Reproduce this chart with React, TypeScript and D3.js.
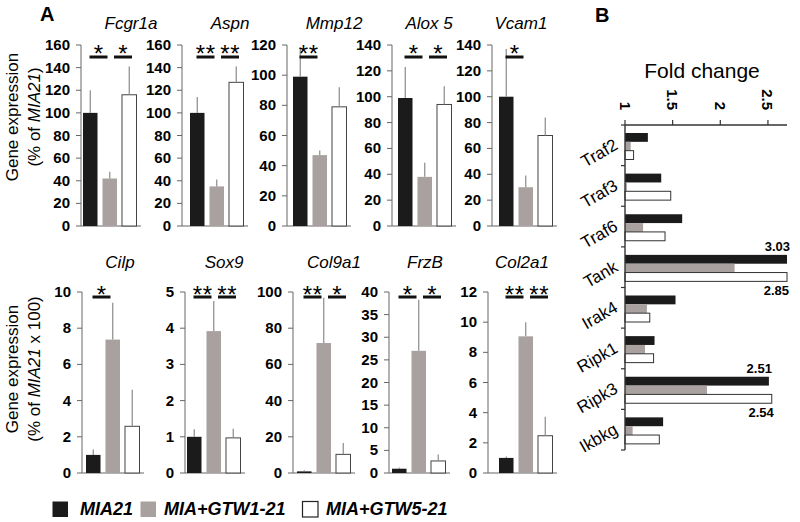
import React from "react";
import * as d3 from "d3";

// ---------- Data ----------
const seriesNames = ["MIA21", "MIA+GTW1-21", "MIA+GTW5-21"];

// Panel A, top row (% of MIA21)
const topGenes = ["Fcgr1a", "Aspn", "Mmp12", "Alox 5", "Vcam1"];
const topMIA21 = [100, 100, 99, 99, 100];
const topGTW1 = [42, 35, 47, 38, 30];
const topGTW5 = [116, 127, 79, 94, 70];
const topErrMIA21 = [20, 14, 19, 24, 37];
const topErrGTW1 = [6, 6, 3, 11, 9];
const topErrGTW5 = [25, 14, 13, 14, 14];
const topYMax = [160, 160, 120, 140, 140];
const topYStep = [20, 20, 20, 20, 20];
const topSig12 = ["*", "**", "**", "*", "*"];
const topSig23 = ["*", "**", "", "*", ""];

// Panel A, bottom row (% of MIA21 x 100)
const botGenes = ["Cilp", "Sox9", "Col9a1", "FrzB", "Col2a1"];
const botMIA21 = [1.0, 1.0, 0.9, 0.95, 1.0];
const botGTW1 = [7.37, 3.92, 71.8, 27.0, 9.06];
const botGTW5 = [2.58, 0.97, 10.3, 2.66, 2.47];
const botErrMIA21 = [0.3, 0.21, 0.6, 0.25, 0.1];
const botErrGTW1 = [2.03, 0.83, 25, 11.3, 0.94];
const botErrGTW5 = [2.02, 0.25, 6.3, 1.44, 1.26];
const botYMax = [10, 5, 100, 40, 12];
const botYStep = [2, 1, 20, 5, 2];
const botSig12 = ["*", "**", "**", "*", "**"];
const botSig23 = ["", "**", "*", "*", "**"];

// Panel B (fold change)
const bCats = ["Traf2", "Traf3", "Traf6", "Tank", "Irak4", "Ripk1", "Ripk3", "Ikbkg"];
const bMIA21 = [1.24, 1.38, 1.6, 3.03, 1.53, 1.31, 2.51, 1.4];
const bGTW1 = [1.06, 1.02, 1.19, 2.15, 1.23, 1.21, 1.86, 1.08];
const bGTW5 = [1.09, 1.48, 1.42, 2.85, 1.26, 1.3, 2.54, 1.36];
const bTicks = [1, 1.5, 2, 2.5];
const bTickLabels = ["1", "1.5", "2", "2.5"];
const bLabelledCats = ["Tank", "Ripk3"];

// ---------- Layout / style ----------
const FONT = "'Liberation Sans', Arial, Helvetica, sans-serif";
const COLORS = ["#1b1b1b", "#a9a19f", "#ffffff"];

const topAxisX = [81, 182, 287, 392, 492];
const topBarX = [83, 190, 293, 398, 499];
const topTitleX = [131, 230, 334, 429, 521];
const botAxisX = [82, 185, 293, 389, 488];
const botBarX = [86, 187, 297, 392, 499];
const botTitleX = [120, 224, 334, 425, 522];

const TOP_ROW = { y0: 226, y1: 45, titleY: 29, sigY: 57, starY: 62 };
const BOT_ROW = { y0: 473, y1: 292, titleY: 268, sigY: 297, starY: 303 };

type Row = typeof TOP_ROW;

function BarPanel(props: {
  gene: string;
  vals: number[];
  errs: number[];
  yMax: number;
  yStep: number;
  sig12: string;
  sig23: string;
  axisX: number;
  barX: number;
  titleX: number;
  row: Row;
}) {
  const { gene, vals, errs, yMax, yStep, sig12, sig23, axisX, barX, titleX, row } = props;
  const y = d3.scaleLinear().domain([0, yMax]).range([row.y0, row.y1]);
  const x = d3
    .scaleBand<number>()
    .domain([0, 1, 2])
    .range([barX, barX + 53.5])
    .paddingInner(0.256)
    .paddingOuter(0);
  const bw = x.bandwidth();
  const ticks = d3.range(0, yMax + yStep / 2, yStep);
  const cx = (i: number) => (x(i) as number) + bw / 2;
  const sigs: { mid: number; s: string }[] = [];
  if (sig12) sigs.push({ mid: (cx(0) + cx(1)) / 2 - 1.5, s: sig12 });
  if (sig23) sigs.push({ mid: (cx(1) + cx(2)) / 2 + 3.5, s: sig23 });
  return (
    <g>
      <text
        x={titleX}
        y={row.titleY}
        textAnchor="middle"
        fontStyle="italic"
        fontSize={17}
        fontFamily={FONT}
      >
        {gene}
      </text>
      <line x1={axisX} x2={axisX} y1={y(0)} y2={y(yMax)} stroke="#666" strokeWidth={1} />
      {ticks.map((t) => (
        <g key={t}>
          <line x1={axisX - 5} x2={axisX} y1={y(t)} y2={y(t)} stroke="#666" strokeWidth={1} />
          <text
            x={axisX - 11}
            y={y(t) + 5}
            textAnchor="end"
            fontWeight="bold"
            fontSize={15}
            fontFamily={FONT}
          >
            {t}
          </text>
        </g>
      ))}
      <line x1={axisX} x2={barX + 58} y1={y(0)} y2={y(0)} stroke="#666" strokeWidth={1} />
      {vals.map((v, i) => (
        <rect
          key={"b" + i}
          x={x(i)}
          y={y(v)}
          width={bw}
          height={y(0) - y(v)}
          fill={COLORS[i]}
          stroke={i === 2 ? "#444" : "none"}
          strokeWidth={1}
        />
      ))}
      {vals.map((v, i) => (
        <line
          key={"e" + i}
          x1={cx(i)}
          x2={cx(i)}
          y1={y(v)}
          y2={y(v + errs[i])}
          stroke="#8a8a8a"
          strokeWidth={1.2}
        />
      ))}
      {sigs.map((s, k) => {
        const n = s.s.length;
        const starXs = n === 1 ? [s.mid] : [s.mid - 5, s.mid + 5];
        return (
          <g key={"s" + k}>
            <line x1={s.mid - 9} x2={s.mid + 9} y1={row.sigY} y2={row.sigY} stroke="#111" strokeWidth={3} />
            {starXs.map((sx, j) => (
              <text key={j} x={sx} y={row.starY} textAnchor="middle" fontSize={24} fontFamily={FONT}>
                *
              </text>
            ))}
          </g>
        );
      })}
    </g>
  );
}

function YLabel({ cy, second, italicPart, rest }: { cy: number; second: string; italicPart: string; rest: string }) {
  return (
    <g fontFamily={FONT} fontSize={17}>
      <text transform={`translate(18,${cy}) rotate(-90)`} textAnchor="middle">
        Gene expression
      </text>
      <text transform={`translate(40,${cy}) rotate(-90)`} textAnchor="middle">
        {second}
        <tspan fontStyle="italic">{italicPart}</tspan>
        {rest}
      </text>
    </g>
  );
}

function PanelB() {
  const x = d3.scaleLinear().domain([1, 2.7]).range([625, 787]).clamp(true);
  const yG = d3.scaleBand<string>().domain(bCats).range([125, 450]);
  const inner = d3.scaleBand<number>().domain([0, 1, 2]).range([8, 34.5]);
  const bh = inner.bandwidth();
  const seriesVals = [bMIA21, bGTW1, bGTW5];
  const boundaries = bCats.map((c) => yG(c) as number).concat([450]);
  return (
    <g fontFamily={FONT}>
      <text x={595} y={22} fontWeight="bold" fontSize={20}>
        B
      </text>
      <text x={702} y={78} textAnchor="middle" fontSize={21}>
        Fold change
      </text>
      {bCats.map((c, ci) =>
        seriesVals.map((arr, si) => {
          const v = arr[ci];
          const y0 = (yG(c) as number) + (inner(si) as number);
          return (
            <rect
              key={c + si}
              x={x(1)}
              y={y0}
              width={x(v) - x(1)}
              height={bh}
              fill={COLORS[si]}
              stroke={si === 2 ? "#333" : "none"}
              strokeWidth={1}
            />
          );
        })
      )}
      {bLabelledCats.map((c) => {
        const ci = bCats.indexOf(c);
        const g0 = yG(c) as number;
        const vb = bMIA21[ci];
        const vw = bGTW5[ci];
        return (
          <g key={"lab" + c} fontWeight="bold" fontSize={13}>
            <text x={x(vb) + 3} y={g0 + (inner(0) as number) - 4} textAnchor="end">
              {vb.toFixed(2)}
            </text>
            <text x={x(vw) + 2} y={g0 + (inner(2) as number) + bh + 14} textAnchor="end">
              {vw.toFixed(2)}
            </text>
          </g>
        );
      })}
      <line x1={625} x2={787} y1={125} y2={125} stroke="#333" strokeWidth={1.4} />
      <line x1={625} x2={625} y1={125} y2={450} stroke="#333" strokeWidth={1.4} />
      {bTicks.map((t, i) => (
        <g key={"t" + t}>
          <line x1={x(t)} x2={x(t)} y1={120} y2={125} stroke="#333" strokeWidth={1.2} />
          <text
            transform={`translate(${x(t) - 5.5},110) rotate(90)`}
            textAnchor="end"
            fontWeight="bold"
            fontSize={15}
          >
            {bTickLabels[i]}
          </text>
        </g>
      ))}
      {boundaries.map((b, i) => (
        <line key={"bt" + i} x1={621} x2={625} y1={b} y2={b} stroke="#333" strokeWidth={1.2} />
      ))}
      {bCats.map((c) => (
        <text
          key={"cl" + c}
          transform={`translate(619,${(yG(c) as number) + yG.bandwidth() / 2 + 3}) rotate(-30)`}
          textAnchor="end"
          fontSize={17}
        >
          {c}
        </text>
      ))}
    </g>
  );
}

function Legend() {
  const items = [
    { x: 52, tx: 80 },
    { x: 140, tx: 164 },
    { x: 302, tx: 326 },
  ];
  return (
    <g fontFamily={FONT}>
      {seriesNames.map((s, i) => (
        <g key={s}>
          <rect
            x={items[i].x + 0.5}
            y={501.5}
            width={15.5}
            height={15.5}
            fill={COLORS[i]}
            stroke={i === 2 ? "#222" : "none"}
            strokeWidth={1.2}
          />
          <text x={items[i].tx} y={515} fontWeight="bold" fontStyle="italic" fontSize={18}>
            {s}
          </text>
        </g>
      ))}
    </g>
  );
}

export default function App() {
  return (
    <svg
      width={800}
      height={522}
      style={{ position: "absolute", left: 0, top: 0, background: "#fff" }}
    >
      <rect width={800} height={522} fill="#fff" />
      <text x={40} y={21} fontWeight="bold" fontSize={20} fontFamily={FONT}>
        A
      </text>
      <YLabel cy={117} second="(% of " italicPart="MIA21" rest=")" />
      <YLabel cy={369} second="(% of " italicPart="MIA21" rest=" x 100)" />
      {topGenes.map((g, i) => (
        <BarPanel
          key={g}
          gene={g}
          vals={[topMIA21[i], topGTW1[i], topGTW5[i]]}
          errs={[topErrMIA21[i], topErrGTW1[i], topErrGTW5[i]]}
          yMax={topYMax[i]}
          yStep={topYStep[i]}
          sig12={topSig12[i]}
          sig23={topSig23[i]}
          axisX={topAxisX[i]}
          barX={topBarX[i]}
          titleX={topTitleX[i]}
          row={TOP_ROW}
        />
      ))}
      {botGenes.map((g, i) => (
        <BarPanel
          key={g}
          gene={g}
          vals={[botMIA21[i], botGTW1[i], botGTW5[i]]}
          errs={[botErrMIA21[i], botErrGTW1[i], botErrGTW5[i]]}
          yMax={botYMax[i]}
          yStep={botYStep[i]}
          sig12={botSig12[i]}
          sig23={botSig23[i]}
          axisX={botAxisX[i]}
          barX={botBarX[i]}
          titleX={botTitleX[i]}
          row={BOT_ROW}
        />
      ))}
      <PanelB />
      <Legend />
    </svg>
  );
}
